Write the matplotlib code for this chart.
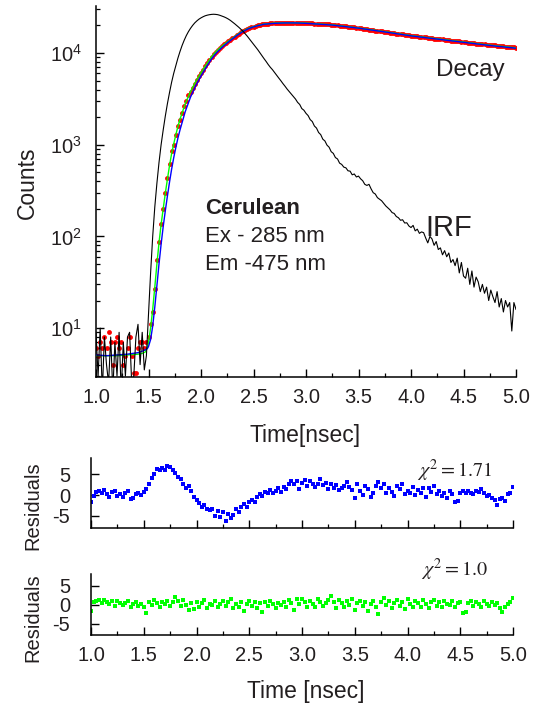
import numpy as np
import matplotlib.pyplot as plt
from matplotlib.ticker import MultipleLocator, LogLocator, NullFormatter, FormatStrFormatter

# decay data (red dots) and IRF, sampled every 0.02 ns from 1.0 to 5.0
decay_counts = [
    6, 5, 7, 6, 8, 6, 9, 7, 4, 7,
    8, 6, 7, 4, 5, 6, 8, 5, 3.2, 3.2,
    6, 7, 7, 6, 7, 8, 11, 15, 27, 55,
    88, 135, 200, 300, 430, 620, 850, 1000, 1280, 1600,
    1850, 2200, 2650, 3000, 3450, 3800, 4200, 4650, 5100, 5600,
    6100, 6600, 7200, 7800, 8400, 9100, 9700, 10300, 10800, 11400,
    11900, 12400, 12900, 13400, 13900, 14500, 15100, 15700, 16300, 16900,
    17400, 17900, 18400, 18800, 19100, 19400, 19700, 20000, 20300, 20500,
    20700, 20900, 21000, 21100, 21200, 21200, 21300, 21200, 21300, 21400,
    21300, 21300, 21400, 21300, 21300, 21400, 21300, 21200, 21300, 21300,
    21200, 21200, 21100, 21100, 21000, 21000, 20900, 20800, 20800, 20700,
    20600, 20500, 20400, 20300, 20200, 20100, 19900, 19800, 19700, 19600,
    19400, 19300, 19200, 19000, 18900, 18800, 18600, 18500, 18300, 18200,
    18000, 17900, 17700, 17600, 17500, 17300, 17200, 17000, 16900, 16800,
    16600, 16500, 16400, 16300, 16200, 16100, 16000, 15900, 15700, 15600,
    15500, 15400, 15300, 15200, 15100, 15000, 14900, 14800, 14700, 14600,
    14500, 14400, 14300, 14200, 14150, 14100, 14000, 13900, 13800, 13700,
    13600, 13500, 13400, 13400, 13300, 13200, 13100, 13000, 12900, 12800,
    12800, 12700, 12600, 12500, 12500, 12400, 12300, 12300, 12200, 12100,
    12100, 12000, 11900, 11900, 11800, 11700, 11700, 11600, 11500, 11500,
    11400,
]
irf_counts = [
    9, 3, 10, 2, 8, 4, 2.5, 8, 2, 7,
    3, 9, 2, 7, 3, 8, 9, 2.5, 3, 8,
    11, 4, 9, 3.5, 5, 14, 40, 100, 210, 380,
    640, 1000, 1450, 2050, 2800, 3700, 4800, 6000, 7300, 8800,
    10400, 12100, 13800, 15500, 17100, 18600, 20000, 21300, 22400, 23400,
    24200, 24900, 25500, 25900, 26200, 26400, 26500, 26400, 26200, 25800,
    25300, 24800, 24200, 23500, 22700, 21800, 20900, 20000, 19100, 18200,
    17300, 16300, 15300, 14300, 13400, 12500, 11700, 10900, 10100, 9400,
    8700, 8100, 7500, 7000, 6600, 6150, 5750, 5350, 5000, 4650,
    4350, 4050, 3800, 3550, 3350, 3150, 2900, 2750, 2480, 2380,
    2200, 2080, 1880, 1790, 1600, 1520, 1360, 1290, 1150, 1100,
    990, 940, 840, 805, 725, 700, 630, 610, 570, 560,
    520, 515, 470, 480, 445, 455, 425, 405, 370, 360,
    370, 330, 300, 290, 265, 255, 245, 230, 215, 205,
    195, 182, 178, 165, 160, 150, 152, 140, 141, 130,
    125, 132, 115, 120, 108, 112, 110, 96, 85, 100,
    94, 80, 88, 72, 75, 63, 70, 60, 66, 52,
    56, 48, 58, 40, 52, 37, 35, 45, 30, 42,
    28, 36, 32, 25, 30, 24, 28, 20, 26, 22,
    19, 25, 17, 21, 15, 20, 17, 19, 9.3, 19,
    16,
]
time = np.linspace(1.0, 5.0, len(decay_counts))

# fitted curves
fit_time = [1.00, 1.10, 1.20, 1.30, 1.40, 1.44, 1.47, 1.49, 1.50, 1.52, 1.54, 1.56,
            1.58, 1.60, 1.62, 1.64, 1.66, 1.68, 1.70, 1.72, 1.74, 1.76, 1.78, 1.80,
            1.85, 1.90, 1.95, 2.00, 2.05, 2.10, 2.15, 2.20, 2.25, 2.30, 2.35, 2.40,
            2.45, 2.50, 2.55, 2.60, 2.70, 2.80, 2.90, 3.00, 3.25, 3.50, 3.75, 4.00,
            4.25, 4.50, 4.75, 5.00]
fit_green = [5.0, 5.0, 5.0, 5.1, 5.2, 5.3, 5.5, 6.2, 7.0, 10, 16, 28,
             50, 85, 135, 200, 295, 420, 590, 800, 1020, 1280, 1580, 1900,
             2800, 3800, 4900, 6100, 7500, 9100, 10600, 11900, 13200, 14500, 16000, 17400,
             18600, 19400, 20100, 20700, 21200, 21350, 21350, 21200, 20300, 18800, 17100, 15500,
             14300, 13200, 12200, 11400]
fit_blue = [5.1, 5.0, 5.1, 5.2, 5.4, 5.6, 5.8, 6.0, 6.3, 7.5, 10.5, 17,
            29, 50, 82, 128, 190, 275, 390, 540, 720, 930, 1180, 1450,
            2300, 3300, 4400, 5600, 7000, 8600, 10100, 11500, 12900, 14300, 15800, 17200,
            18400, 19300, 20000, 20600, 21100, 21300, 21300, 21100, 20200, 18700, 17000, 15400,
            14200, 13100, 12100, 11300]

# weighted residuals, every 0.025 ns
resid_blue = [
    -1.8, -0.2, 0.8, 1.0, 0.6, 1.2, 0.3, -0.5, 0.7, 0.9,
    -0.2, 0.2, -0.4, 0.5, 0.9, -1.0, -0.6, 0.3, 0.4, 0.1,
    0.8, 1.5, 2.8, 4.2, 5.2, 6.3, 6.0, 6.6, 6.2, 7.1,
    6.8, 6.0, 5.4, 4.5, 4.0, 2.6, 1.8, 2.2, 0.9, -0.4,
    -1.2, -2.0, -3.0, -2.4, -3.4, -3.6, -3.5, -5.0, -3.8, -5.4,
    -4.2, -6.4, -4.6, -5.5, -4.9, -3.3, -4.2, -2.8, -2.2, -2.8,
    -1.7, -1.2, -1.8, -0.5, 0.2, -0.2, 0.8, 0.6, 1.2, 0.4,
    1.0, 1.6, 0.8, 2.0, 1.4, 2.6, 3.5, 2.8, 3.4, 1.5,
    3.0, 3.6, 2.2, 3.3, 2.6, 1.9, 2.8, 3.8, 2.4, 3.0,
    1.4, 2.6, 1.8, 2.4, 1.2, 1.8, 2.2, 3.2, 2.0, 1.3,
    -0.8, 2.8, 1.0, 0.0, 2.3, 1.5, -0.4, 0.4, 2.2, 3.2,
    1.6, 2.6, 0.4, 1.6, 0.8, -0.2, 2.2, 1.5, 2.6, 0.2,
    1.0, 0.6, 2.0, 0.0, 1.2, 0.4, 1.8, -0.4, 1.6, 0.8,
    2.2, 0.3, 1.0, -0.2, 0.6, -0.8, 0.9, 0.2, -1.7, -1.5,
    0.4, 0.9, 0.5, 1.1, 0.6, 0.2, 1.0, 0.8, 1.4, 0.6,
    -0.2, 0.0, -0.8, -1.2, -2.4, -1.0, -0.6, -1.4, 0.2, 0.6,
    2.0,
]
resid_green = [
    -1.6, 0.6, 0.9, 1.2, 0.4, 1.3, 0.8, 0.2, 1.0, -0.3,
    0.9, 0.5, -0.2, 0.4, 1.1, -0.6, 0.3, 0.7, -0.4, 0.2,
    -0.5, -2.3, 0.6, -0.2, 1.3, 0.5, -0.6, 0.8, 0.1, 1.1,
    -0.4, 0.6, 2.0, 0.9, -0.3, 1.2, 0.0, -1.4, 0.5, -1.2,
    0.8, -0.6, 0.4, 1.3, -0.9, 0.3, -0.2, 0.9, -0.7, 0.2,
    1.1, -0.4, 0.7, 1.5, -1.0, 0.3, -0.5, 0.8, -1.6, 0.2,
    0.9, -0.4, 0.6, -0.8, 0.4, -1.8, 0.7, -0.3, 1.0, 0.3,
    -0.9, 0.5, -0.2, 0.8, -0.6, 1.3, 0.4, -1.4, 1.6, 0.2,
    1.5, 0.6, -0.7, 1.1, 0.2, -0.5, 1.4, 0.8, -0.3, 0.5,
    1.2, 2.2, 0.6, -0.8, 1.3, 0.4, -0.6, 0.9, -0.2, 1.5,
    -1.3, 0.4, 1.0, -0.4, 0.7, -1.6, 0.3, 1.1, -0.5, -2.5,
    0.6, 1.8, -0.2, 0.9, -0.8, 0.5, 1.2, -0.4, 0.8, -1.1,
    1.6, 0.2, -0.6, 1.0, 0.4, -0.7, 1.3, 0.1, -0.9, 0.6,
    1.2, -0.3, 0.7, -0.5, 1.0, 0.3, -0.2, 0.9, -0.6, 0.4,
    0.8, -2.3, -2.0, 0.5, 1.1, -0.3, 0.6, 0.2, -0.5, 0.9,
    0.3, -0.4, 0.7, -0.2, 0.5, -1.0, -1.8, -0.6, 0.2, 0.7,
    1.7,
]
resid_time = np.linspace(1.0, 5.0, len(resid_blue))

W, H = 536, 706
TXT = '#231f20'


def fx(px):
    return px / W


def fy(py):
    return 1 - py / H


plt.rcParams['font.family'] = ['Liberation Sans', 'DejaVu Sans']
plt.rcParams['axes.linewidth'] = 1.1
plt.rcParams['axes.unicode_minus'] = False
fig = plt.figure(figsize=(W / 100, H / 100), dpi=100)

# ---- main decay panel ----
ax = fig.add_axes([fx(96), fy(377), (516 - 96) / W, (377 - 6) / H])
ax.plot(time, decay_counts, 'o', color='#ff0000', markersize=3.5, markeredgewidth=0, zorder=2)
ax.plot(fit_time, fit_green, color='#00ff00', lw=1.0, zorder=3)
ax.plot(fit_time, fit_blue, color='#0000ff', lw=1.0, zorder=4)
ax.plot(time, irf_counts, color='black', lw=0.8, zorder=5)
ax.set_yscale('log')
ax.set_xlim(1.0, 5.0)
ax.set_ylim(2.93, 32600)
ax.set_yticks([10, 100, 1000, 10000])
ax.set_yticklabels([r'$\mathregular{10^{1}}$', r'$\mathregular{10^{2}}$',
                    r'$\mathregular{10^{3}}$', r'$\mathregular{10^{4}}$'])
ax.yaxis.set_minor_locator(LogLocator(base=10, subs=np.arange(2, 10)))
ax.yaxis.set_minor_formatter(NullFormatter())
ax.xaxis.set_major_locator(MultipleLocator(0.5))
ax.xaxis.set_minor_locator(MultipleLocator(0.25))
ax.xaxis.set_major_formatter(FormatStrFormatter('%.1f'))
ax.tick_params(which='major', direction='in', length=6, width=1.0, labelsize=14.5,
               labelcolor=TXT)
ax.tick_params(which='minor', direction='in', length=3, width=0.9)
ax.tick_params(axis='x', pad=8)
ax.tick_params(axis='y', pad=10)
for s in ['top', 'right']:
    ax.spines[s].set_visible(False)

fig.text(fx(205), fy(214), 'Cerulean', fontsize=16, fontweight='bold', color=TXT, va='baseline')
fig.text(fx(205), fy(242), 'Ex - 285 nm', fontsize=16, color=TXT, va='baseline')
fig.text(fx(205), fy(270), 'Em -475 nm', fontsize=16, color=TXT, va='baseline')
fig.text(fx(436), fy(76), 'Decay', fontsize=17.5, color=TXT, va='baseline')
fig.text(fx(425), fy(236), 'IRF', fontsize=21, color=TXT, va='baseline')
fig.text(fx(27), fy(183), 'Counts', fontsize=16.5, color=TXT, rotation=90, ha='center', va='center')
fig.text(fx(305), fy(442), 'Time[nsec]', fontsize=16.5, color=TXT, ha='center', va='baseline')

# ---- residual panels ----
res_specs = [
    (resid_blue, '#0000ff', 458, 528, 9.0, r'$\chi^2 = 1.71$', 417, 477, 506),
    (resid_green, '#00ff00', 574, 635, 8.1, r'$\chi^2 = 1.0$', 421, 576, 618),
]
for i, (vals, col, top, bot, ymax, chi, cx, cy, ly) in enumerate(res_specs):
    rax = fig.add_axes([fx(91), fy(bot), (513 - 91) / W, (bot - top) / H])
    rax.plot(resid_time, vals, 's', color=col, markersize=2.6, markeredgewidth=0)
    rax.set_xlim(1.0, 5.0)
    rax.set_ylim(-8, ymax)
    rax.set_yticks([-5, 0, 5])
    rax.xaxis.set_major_locator(MultipleLocator(0.5))
    rax.xaxis.set_minor_locator(MultipleLocator(0.25))
    rax.xaxis.set_major_formatter(FormatStrFormatter('%.1f'))
    rax.tick_params(which='major', direction='in', length=6, width=1.0, labelsize=14.5,
                    labelcolor=TXT)
    rax.tick_params(which='minor', direction='in', length=3, width=0.9)
    rax.tick_params(axis='x', pad=8)
    rax.tick_params(axis='y', pad=15)
    if i == 0:
        rax.tick_params(axis='x', labelbottom=False)
    for s in ['top', 'right']:
        rax.spines[s].set_visible(False)
    fig.text(fx(cx), fy(cy), chi, fontsize=14.5, color=TXT, math_fontfamily='stix', va='baseline')
    fig.text(fx(33), fy(ly), 'Residuals', fontsize=14.5, color=TXT, rotation=90,
             ha='center', va='center')

fig.text(fx(306), fy(698), 'Time [nsec]', fontsize=16.5, color=TXT, ha='center', va='baseline')

fig.savefig('out.png', dpi=100)
